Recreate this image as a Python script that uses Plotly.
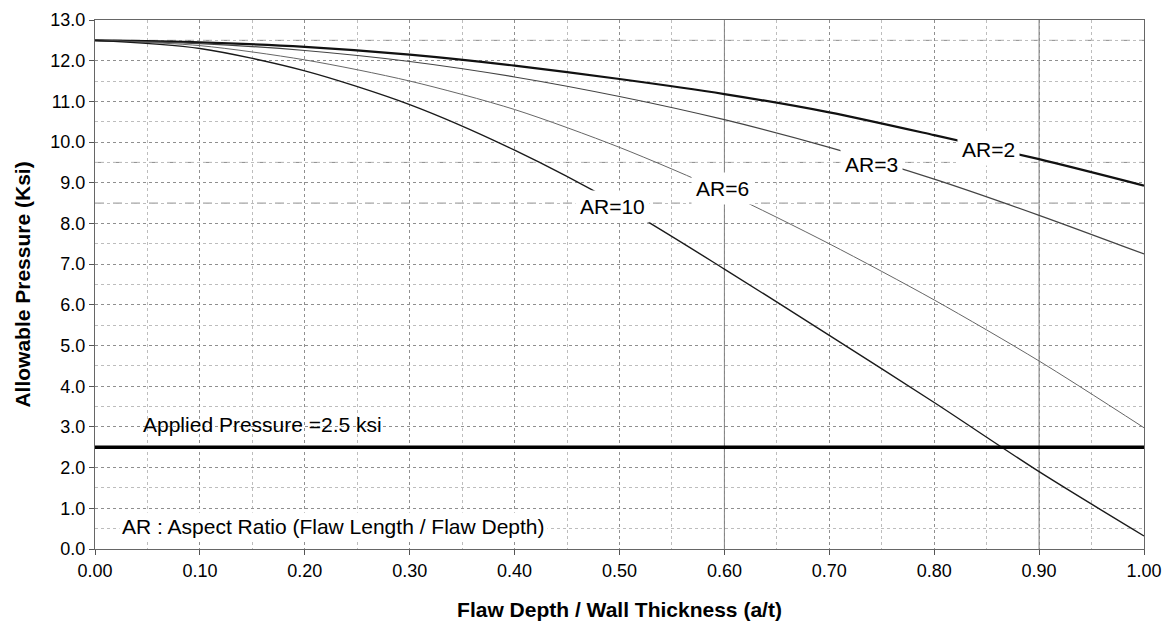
import plotly.graph_objects as go

# ---- data ----
x_vals = [0.0, 0.1, 0.2, 0.3, 0.4, 0.5, 0.6, 0.7, 0.8, 0.9, 1.0]
ar2 = [12.5, 12.45, 12.34, 12.15, 11.88, 11.55, 11.18, 10.73, 10.17, 9.58, 8.93]
ar3 = [12.5, 12.42, 12.25, 11.98, 11.6, 11.12, 10.55, 9.87, 9.09, 8.2, 7.25]
ar6 = [12.5, 12.37, 12.02, 11.5, 10.8, 9.87, 8.77, 7.5, 6.12, 4.62, 2.98]
ar10 = [12.5, 12.3, 11.75, 10.92, 9.8, 8.45, 6.88, 5.25, 3.6, 1.9, 0.32]
applied_pressure = 2.5

labels = ["AR=2", "AR=3", "AR=6", "AR=10"]
label_x = [0.852, 0.74, 0.598, 0.493]
label_y = [9.82, 9.44, 8.85, 8.41]

x_ticks = [0.0, 0.1, 0.2, 0.3, 0.4, 0.5, 0.6, 0.7, 0.8, 0.9, 1.0]
y_ticks = list(range(0, 14))
emph_h = [12.5, 9.5, 8.5]
solid_v = [0.6, 0.9]

FONT = "Liberation Sans, Arial, sans-serif"

fig = go.Figure()

styles = [("#111111", 2.2), ("#444444", 1.2), ("#666666", 1.0), ("#1a1a1a", 1.4)]
for name, ys, (c, w) in zip(labels, [ar2, ar3, ar6, ar10], styles):
    fig.add_trace(go.Scatter(x=x_vals, y=ys, mode="lines", name=name,
                             line=dict(color=c, width=w, shape="spline", smoothing=0.8),
                             showlegend=False))

fig.add_trace(go.Scatter(x=[x_ticks[0], x_ticks[-1]], y=[applied_pressure, applied_pressure],
                         mode="lines", line=dict(color="black", width=3.5), showlegend=False))

# emphasized grid lines
for yv in emph_h:
    fig.add_shape(type="line", xref="x", yref="y", x0=0, x1=1, y0=yv, y1=yv,
                  line=dict(color="#8a8a8a", width=1, dash="dash"), layer="below")
for xv in solid_v:
    fig.add_shape(type="line", xref="x", yref="y", x0=xv, x1=xv, y0=0, y1=13,
                  line=dict(color="#777777", width=1), layer="below")

for t, xx, yy in zip(labels, label_x, label_y):
    fig.add_annotation(x=xx, y=yy, text=t, showarrow=False,
                       font=dict(family=FONT, size=21, color="black"),
                       bgcolor="white", borderpad=4)

fig.add_annotation(x=0.044, y=3.07, xanchor="left", text="Applied Pressure =2.5 ksi",
                   showarrow=False, font=dict(family=FONT, size=21, color="black"))
fig.add_annotation(x=0.023, y=0.56, xanchor="left",
                   text="AR : Aspect Ratio (Flaw Length / Flaw Depth)",
                   showarrow=False, font=dict(family=FONT, size=21, color="black"),
                   bgcolor="white", borderpad=2)

fig.update_xaxes(range=[0, 1], tickvals=x_ticks,
                 ticktext=[f"{v:.2f}" for v in x_ticks],
                 showgrid=True, gridcolor="#8f8f8f", griddash="dot", gridwidth=1,
                 minor=dict(dtick=0.05, showgrid=True, gridcolor="#bdbdbd", griddash="dot"),
                 ticks="outside", ticklen=5, tickcolor="#555",
                 showline=True, linecolor="#666", linewidth=1, mirror=True,
                 zeroline=False,
                 tickfont=dict(family=FONT, size=18, color="black"),
                 title=dict(text="<b>Flaw Depth / Wall Thickness (a/t)</b>",
                            font=dict(family=FONT, size=21, color="black"), standoff=22))
fig.update_yaxes(range=[0, 13], tickvals=y_ticks,
                 ticktext=[f"{v:.1f}" for v in y_ticks],
                 showgrid=True, gridcolor="#8f8f8f", griddash="dot", gridwidth=1,
                 minor=dict(dtick=0.5, showgrid=True, gridcolor="#bdbdbd", griddash="dot"),
                 ticks="outside", ticklen=5, tickcolor="#555",
                 showline=True, linecolor="#666", linewidth=1, mirror=True,
                 zeroline=False,
                 tickfont=dict(family=FONT, size=18, color="black"),
                 title=dict(text="<b>Allowable Pressure (Ksi)</b>",
                            font=dict(family=FONT, size=21, color="black"), standoff=14))

fig.update_layout(width=1172, height=628,
                  margin=dict(l=95, r=27, t=10, b=79),
                  plot_bgcolor="white", paper_bgcolor="white",
                  font=dict(family=FONT))

fig.write_html("out.html")
